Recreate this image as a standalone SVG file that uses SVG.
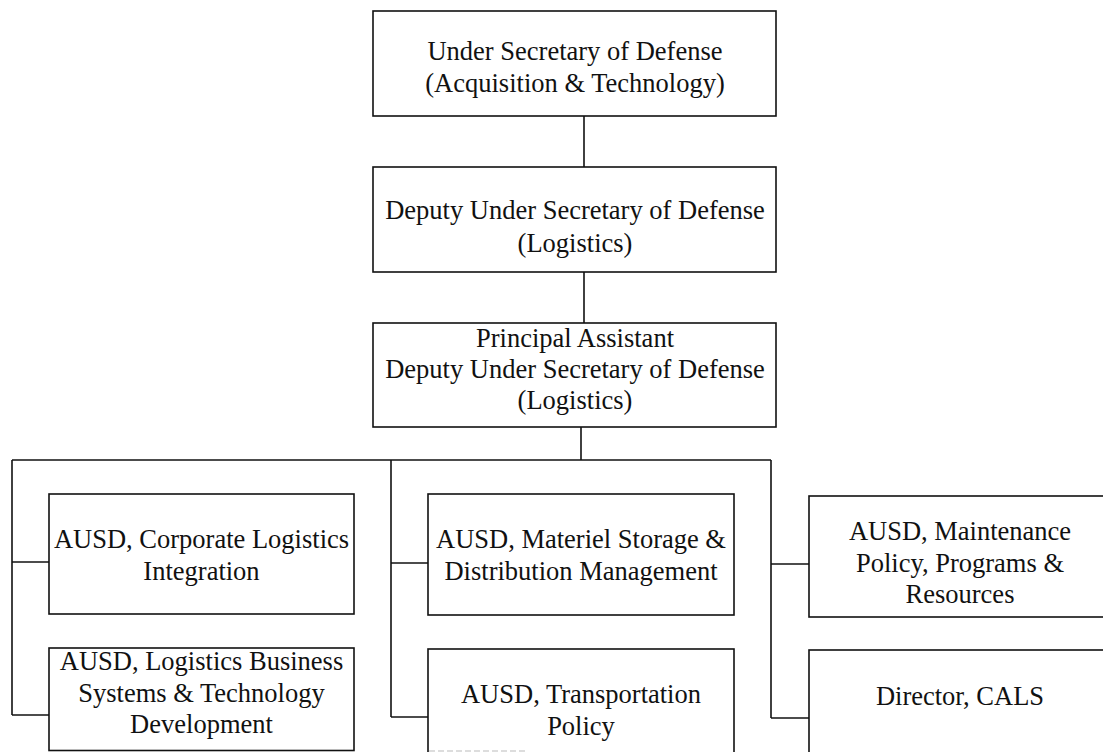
<svg xmlns="http://www.w3.org/2000/svg" width="1103" height="752" viewBox="0 0 1103 752">
<style>
rect.box{fill:#fff;stroke:#111;stroke-width:1.6}
.conn line{stroke:#111;stroke-width:1.6}
text{font-family:"Liberation Serif","Times New Roman",serif;font-size:26.5px;fill:#111;text-anchor:middle}
</style>
<rect width="1103" height="752" fill="#fff"/>
<g class="conn">
<line x1="584" y1="116" x2="584" y2="167"/>
<line x1="584" y1="272" x2="584" y2="323"/>
<line x1="581" y1="427" x2="581" y2="460"/>
<line x1="12" y1="460" x2="771" y2="460"/>
<line x1="12" y1="460" x2="12" y2="715"/>
<line x1="12" y1="562" x2="49" y2="562"/>
<line x1="12" y1="715" x2="49" y2="715"/>
<line x1="391" y1="460" x2="391" y2="717"/>
<line x1="391" y1="563" x2="428" y2="563"/>
<line x1="391" y1="717" x2="428" y2="717"/>
<line x1="771" y1="460" x2="771" y2="718"/>
<line x1="771" y1="564" x2="809" y2="564"/>
<line x1="771" y1="718" x2="809" y2="718"/>
</g>
<g id="usd">
<rect class="box" x="373" y="11" width="403" height="105"/>
<text x="575" y="60">Under Secretary of Defense</text>
<text x="575" y="92">(Acquisition &amp; Technology)</text>
</g>
<g id="dusd">
<rect class="box" x="373" y="167" width="403" height="105"/>
<text x="575" y="219">Deputy Under Secretary of Defense</text>
<text x="575" y="252">(Logistics)</text>
</g>
<g id="padusd">
<rect class="box" x="373" y="323" width="403" height="104"/>
<text x="575" y="347">Principal Assistant</text>
<text x="575" y="378">Deputy Under Secretary of Defense</text>
<text x="575" y="409">(Logistics)</text>
</g>
<g id="corporate">
<rect class="box" x="49" y="494" width="305" height="120"/>
<text x="201.5" y="548">AUSD, Corporate Logistics</text>
<text x="201.5" y="580">Integration</text>
</g>
<g id="business">
<rect class="box" x="49" y="648" width="305" height="102.5"/>
<text x="201.5" y="670">AUSD, Logistics Business</text>
<text x="201.5" y="702">Systems &amp; Technology</text>
<text x="201.5" y="733">Development</text>
</g>
<g id="materiel">
<rect class="box" x="428" y="494" width="306" height="121"/>
<text x="581" y="548">AUSD, Materiel Storage &amp;</text>
<text x="581" y="580">Distribution Management</text>
</g>
<g id="transport">
<rect class="box" x="428" y="649" width="306" height="115"/>
<line x1="429" y1="751" x2="528" y2="751" stroke="#bbb" stroke-width="1.2" stroke-dasharray="6 3"/>
<text x="581" y="703">AUSD, Transportation</text>
<text x="581" y="735">Policy</text>
</g>
<g id="maintenance">
<rect class="box" x="809" y="496" width="303" height="121"/>
<text x="960" y="540">AUSD, Maintenance</text>
<text x="960" y="572">Policy, Programs &amp;</text>
<text x="960" y="603">Resources</text>
</g>
<g id="cals">
<rect class="box" x="809" y="650" width="303" height="115"/>
<text x="960" y="705">Director, CALS</text>
</g>
</svg>
